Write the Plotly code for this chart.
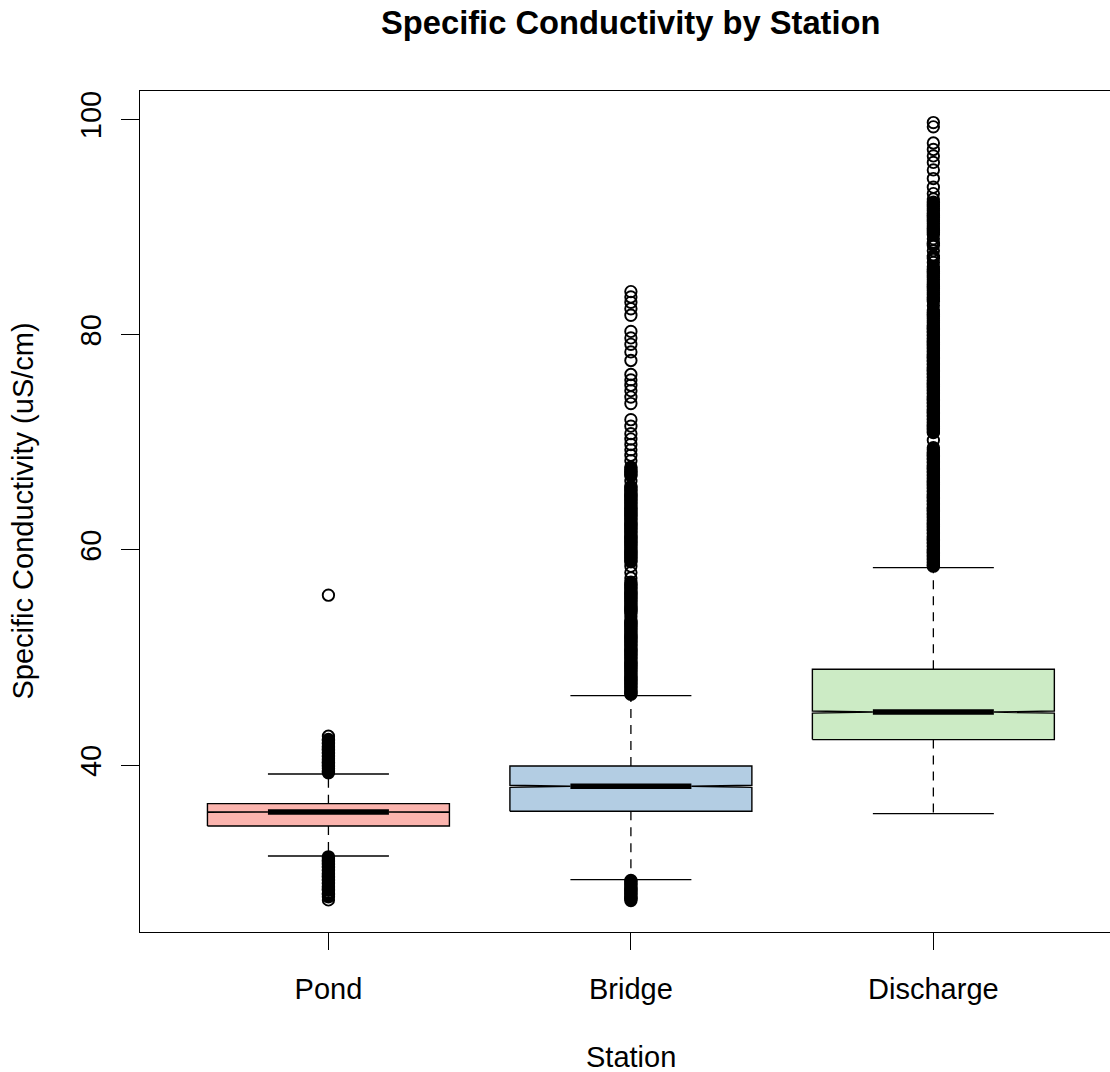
import plotly.graph_objects as go

# ---- data -------------------------------------------------------------
stations = ["Pond", "Bridge", "Discharge"]
fill_colors = ["#FBB4AE", "#B3CDE3", "#CCEBC5"]

lower_whisker = [31.58, 29.38, 35.51]
q1 = [34.36, 35.73, 42.39]
median = [35.67, 38.05, 44.95]
q3 = [36.44, 39.94, 48.92]
upper_whisker = [39.19, 46.47, 58.36]
notch_lower = [35.64, 37.95, 44.85]
notch_upper = [35.70, 38.15, 45.05]

pond_outliers = [
    55.8,
    42.7, 42.4, 42.3, 42.1, 42.0, 41.8, 41.7, 41.5, 41.4, 41.2, 41.1, 40.9,
    40.8, 40.6, 40.5, 40.3, 40.2, 40.0, 39.9, 39.7, 39.5, 39.4, 39.3,
    31.5, 31.4, 31.2, 31.1, 30.9, 30.8, 30.6, 30.5, 30.3, 30.2, 30.0, 29.9,
    29.7, 29.6, 29.4, 29.3, 29.1, 29.0, 28.8, 28.7, 28.5, 28.4, 28.1, 28.0,
    27.8, 27.5,
]

bridge_outliers = [
    29.3, 29.2, 29.0, 28.9, 28.7, 28.6, 28.4, 28.3, 28.1, 28.0, 27.8, 27.7,
    27.6, 27.45,
    46.6, 46.7, 46.9, 47.0, 47.2, 47.3, 47.5, 47.6, 47.8, 47.9, 48.1, 48.2,
    48.4, 48.5, 48.7, 48.8, 49.0, 49.1, 49.3, 49.4, 49.6, 49.7, 49.9, 50.0,
    50.2, 50.3, 50.5, 50.6, 50.8, 50.9, 51.1, 51.2, 51.4, 51.5, 51.7, 51.8,
    52.0, 52.1, 52.3, 52.4, 52.6, 52.7, 52.9, 53.0, 53.2, 53.3, 53.5, 53.8,
    54.1, 54.3, 54.4, 54.6, 54.7, 54.9, 55.0, 55.2, 55.3, 55.5, 55.6, 55.8,
    55.9, 56.1, 56.2, 56.4, 56.5, 56.7, 56.8, 57.0, 57.4, 57.9, 58.5, 58.9,
    59.0, 59.2, 59.3, 59.5, 59.6, 59.8, 59.9, 60.1, 60.2, 60.4, 60.5, 60.7,
    60.8, 61.0, 61.1, 61.3, 61.4, 61.6, 61.7, 61.9, 62.0, 62.2, 62.3, 62.5,
    62.6, 62.8, 62.9, 63.1, 63.2, 63.4, 63.5, 63.7, 63.8, 64.0, 64.1, 64.3,
    64.4, 64.6, 64.7, 64.9, 65.0, 65.2, 65.3, 65.5, 65.6, 65.8, 65.9, 66.4,
    66.9, 67.0, 67.2, 67.3, 67.5, 67.7,
    68.3, 68.8, 69.3, 69.8, 70.3, 70.8, 71.5, 72.1, 73.6, 74.2, 74.8, 75.3,
    75.8, 76.3, 77.6, 78.4, 79.1, 79.7, 80.3, 81.8, 82.4, 83.0, 83.5, 84.0,
]

discharge_outliers = [
    58.5, 58.6, 58.8, 58.9, 59.1, 59.2, 59.4, 59.5, 59.7, 59.8, 60.0, 60.1,
    60.3, 60.4, 60.6, 60.7, 60.9, 61.0, 61.2, 61.3, 61.5, 61.6, 61.8, 61.9,
    62.1, 62.2, 62.4, 62.5, 62.7, 62.8, 63.0, 63.1, 63.3, 63.4, 63.6, 63.7,
    63.9, 64.0, 64.2, 64.3, 64.5, 64.6, 64.8, 64.9, 65.1, 65.2, 65.4, 65.5,
    65.7, 65.8, 66.0, 66.1, 66.3, 66.4, 66.6, 66.7, 66.9, 67.0, 67.2, 67.3,
    67.5, 67.6, 67.8, 67.9, 68.1, 68.2, 68.4, 68.5, 68.7, 68.8, 69.0, 69.1,
    69.3, 69.5,
    70.2,
    70.9, 71.0, 71.2, 71.3, 71.5, 71.6, 71.8, 71.9, 72.1, 72.2, 72.4, 72.5,
    72.7, 72.8, 73.0, 73.1, 73.3, 73.4, 73.6, 73.7, 73.9, 74.0, 74.2, 74.3,
    74.5, 74.6, 74.8, 74.9, 75.1, 75.2, 75.4, 75.5, 75.7, 75.8, 76.0, 76.1,
    76.3, 76.4, 76.6, 76.7, 76.9, 77.0, 77.2, 77.3, 77.5, 77.6, 77.8, 77.9,
    78.1, 78.2, 78.4, 78.5, 78.7, 78.8, 79.0, 79.1, 79.3, 79.4, 79.6, 79.7,
    79.9, 80.0, 80.2, 80.3, 80.5, 80.6, 80.8, 80.9, 81.1,
    81.3, 81.5, 81.7, 81.9, 82.1, 82.3, 82.7, 83.1, 83.3, 83.5, 83.7, 83.9,
    84.1, 84.3, 84.5, 84.7, 84.9, 85.1, 85.3, 85.5, 85.7, 85.9, 86.1, 86.3,
    86.7, 87.1, 87.3, 87.8, 88.3, 88.5, 88.9, 89.3, 89.5, 89.7, 89.9, 90.1,
    90.3, 90.5, 90.7, 90.9, 91.1, 91.3, 91.5, 91.7, 91.9, 92.1, 92.3, 92.6,
    93.1,
    93.7, 94.5, 95.3, 96.0, 96.6, 97.2, 97.8, 99.3, 99.7,
]

outliers = [pond_outliers, bridge_outliers, discharge_outliers]

y_ticks = [40, 60, 80, 100]

# ---- styling ----------------------------------------------------------
FONT = "Liberation Sans, Arial, Helvetica, sans-serif"
LABEL_SIZE = 29
BOX_HALF = 0.4      # boxwex 0.8
NOTCH_IN = 0.2      # notch / median half-width
STAPLE_HALF = 0.2


def ring_style(values):
    """Heavier rings where points pile up so overlapping runs read as solid."""
    sizes, widths = [], []
    for k, v in enumerate(values):
        others = [abs(v - w) for j, w in enumerate(values) if j != k]
        nearest = min(others) if others else 99
        if nearest <= 0.22:
            sizes.append(10.2)
            widths.append(3.2)
        else:
            sizes.append(11.4)
            widths.append(1.9)
    return sizes, widths


fig = go.Figure()

for i, name in enumerate(stations):
    x = i + 1
    # notched box outline
    xs = [x - BOX_HALF, x + BOX_HALF, x + BOX_HALF, x + NOTCH_IN, x + BOX_HALF,
          x + BOX_HALF, x - BOX_HALF, x - BOX_HALF, x - NOTCH_IN, x - BOX_HALF,
          x - BOX_HALF]
    ys = [q1[i], q1[i], notch_lower[i], median[i], notch_upper[i],
          q3[i], q3[i], notch_upper[i], median[i], notch_lower[i], q1[i]]
    fig.add_trace(go.Scatter(
        x=xs, y=ys, mode="lines", fill="toself", fillcolor=fill_colors[i],
        line=dict(color="black", width=1.4), hoverinfo="skip", showlegend=False))

for i, name in enumerate(stations):
    x = i + 1
    # dashed whiskers
    for a, b in ((q3[i], upper_whisker[i]), (q1[i], lower_whisker[i])):
        fig.add_trace(go.Scatter(
            x=[x, x], y=[a, b], mode="lines",
            line=dict(color="black", width=1.3, dash="9px,7px"),
            hoverinfo="skip", showlegend=False))
    # staples
    for v in (upper_whisker[i], lower_whisker[i]):
        fig.add_trace(go.Scatter(
            x=[x - STAPLE_HALF, x + STAPLE_HALF], y=[v, v], mode="lines",
            line=dict(color="black", width=1.4),
            hoverinfo="skip", showlegend=False))
    # median
    fig.add_trace(go.Scatter(
        x=[x - NOTCH_IN, x + NOTCH_IN], y=[median[i], median[i]], mode="lines",
        line=dict(color="black", width=5.5),
        hoverinfo="skip", showlegend=False))

for i, name in enumerate(stations):
    sizes, widths = ring_style(outliers[i])
    fig.add_trace(go.Scatter(
        x=[i + 1] * len(outliers[i]), y=outliers[i], mode="markers",
        opacity=1,
        marker=dict(symbol="circle-open", size=sizes, color="#000000",
                    opacity=1, line=dict(color="#000000", width=widths)),
        name=name, showlegend=False))

fig.update_layout(
    width=1110, height=1072,
    margin=dict(l=140, r=0, t=91, b=140),
    paper_bgcolor="white", plot_bgcolor="white",
    font=dict(family=FONT, color="black", size=LABEL_SIZE),
    showlegend=False,
)

fig.update_xaxes(
    range=[0.377, 3.584], tickmode="array", tickvals=[1, 2, 3], ticktext=stations,
    ticks="outside", ticklen=17, tickwidth=1.3, tickcolor="black",
    showline=True, linewidth=1.3, linecolor="black", mirror=True,
    showgrid=False, zeroline=False, tickfont=dict(size=LABEL_SIZE),
    ticklabelstandoff=14,
)
fig.update_yaxes(
    range=[24.52, 102.63], tickmode="array", tickvals=y_ticks,
    ticktext=[str(v) for v in y_ticks],
    ticks="outside", ticklen=18, tickwidth=1.3, tickcolor="black",
    showline=True, linewidth=1.3, linecolor="black",
    showgrid=False, zeroline=False, tickangle=-90,
    tickfont=dict(size=LABEL_SIZE), ticklabelstandoff=8,
)

# titles
fig.add_annotation(
    text="<b>Specific Conductivity by Station</b>", xref="x", yref="paper",
    x=2, y=1 + (91 - 22) / 841, xanchor="center", yanchor="middle",
    showarrow=False, font=dict(size=32.7, family=FONT))
fig.add_annotation(
    text="Station", xref="x", yref="paper", x=2, y=-(1057 - 932) / 841,
    xanchor="center", yanchor="middle", showarrow=False,
    font=dict(size=LABEL_SIZE))
fig.add_annotation(
    text="Specific Conductivity (uS/cm)", xref="paper", yref="paper",
    x=-(140 - 22) / 970, y=0.5, xanchor="center", yanchor="middle",
    textangle=-90, showarrow=False, font=dict(size=LABEL_SIZE))

fig.write_html("out.html")
